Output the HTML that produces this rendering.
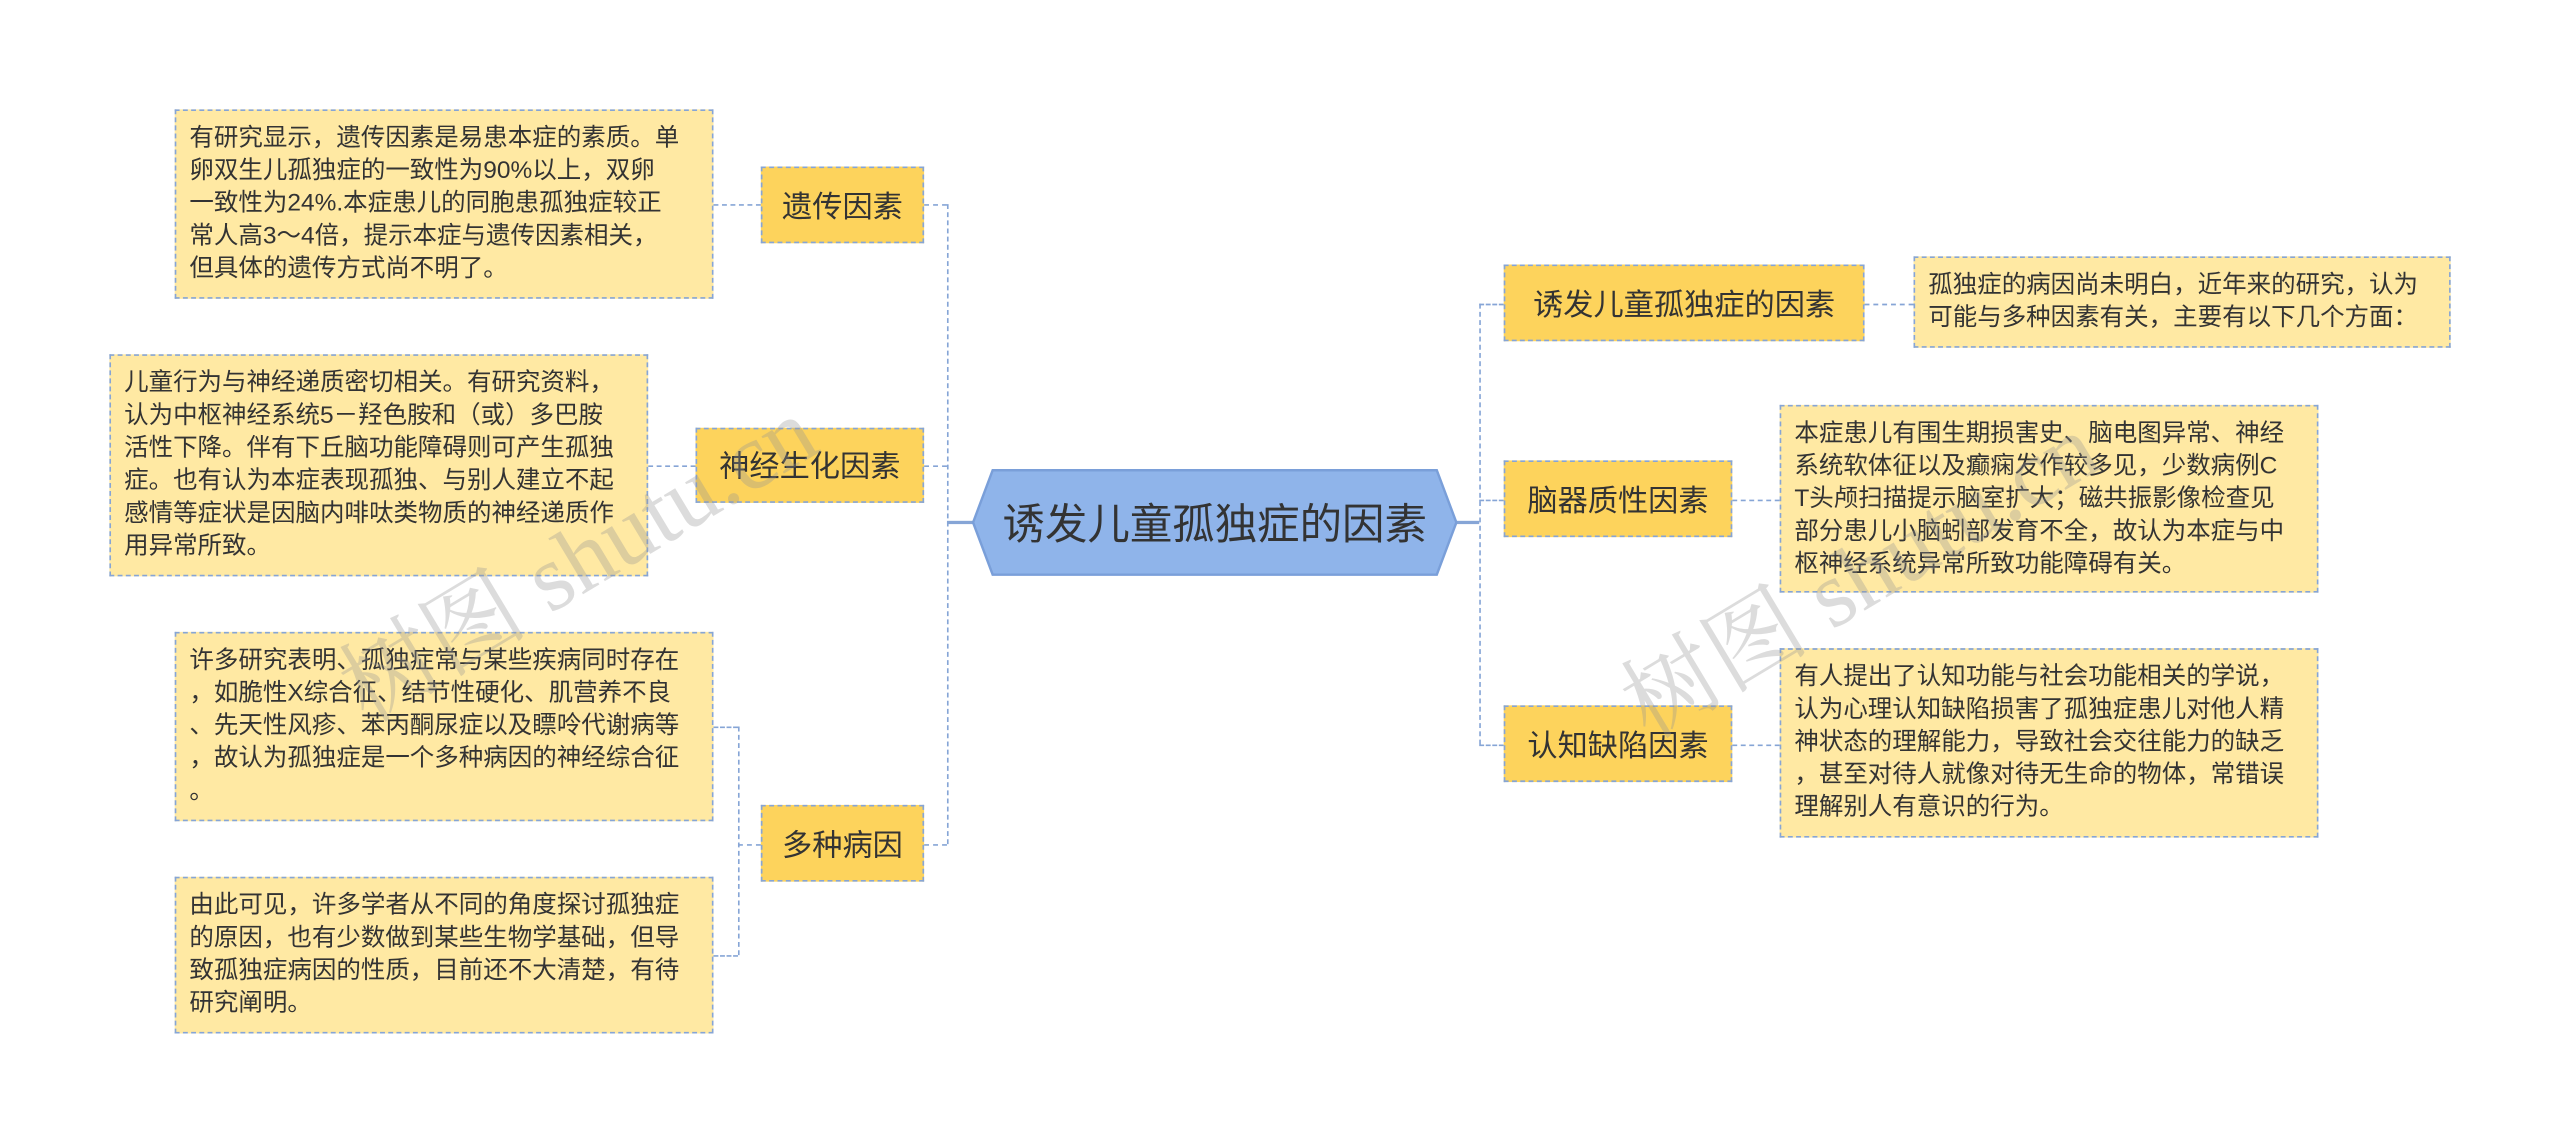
<!DOCTYPE html>
<html><head><meta charset="utf-8"><style>
html,body{margin:0;padding:0;background:#fff;width:2560px;height:1145px;overflow:hidden}
#w{position:absolute;left:0;top:0;width:1568px;height:701px;transform:scale(1.6327);transform-origin:0 0;font-family:"Liberation Sans","Noto Sans CJK SC",sans-serif;color:#333}
.t{position:absolute;background:#ffe9a3;border:1.2px dashed #86a5d6;box-sizing:border-box;padding:7px 0 0 8px;font-size:15px;line-height:20px;white-space:nowrap;color:#333}
.k{position:absolute;background:#fdd35c;border:1.2px dashed #86a5d6;box-sizing:border-box;font-size:18.5px;display:flex;align-items:center;justify-content:center;color:#333}
.l{position:absolute;border-color:#86a5d6;border-style:dashed;border-width:0}
.h{border-top-width:1.5px;height:0}
.v{border-left-width:1.5px;width:0}
.wm{position:absolute;font-size:58px;color:rgba(150,150,150,0.33);transform:rotate(-31deg);transform-origin:0 50%;font-family:"Liberation Serif","Noto Serif CJK SC",serif;white-space:nowrap}
</style></head><body><div id="w">
<div class="l v" style="left:580px;top:125px;height:392px"></div>
<div class="l h" style="left:566px;top:125px;width:14px"></div>
<div class="l h" style="left:566px;top:285px;width:14px"></div>
<div class="l h" style="left:566px;top:517px;width:14px"></div>
<div style="position:absolute;left:580px;top:319px;width:16px;height:2px;background:#86a5d6"></div>
<div class="l h" style="left:437px;top:125px;width:29px"></div>
<div class="l h" style="left:397px;top:285px;width:29px"></div>
<div class="l v" style="left:452px;top:445px;height:140px"></div>
<div class="l h" style="left:437px;top:445px;width:15px"></div>
<div class="l h" style="left:437px;top:585px;width:15px"></div>
<div class="l h" style="left:452px;top:517px;width:14px"></div>
<div style="position:absolute;left:892px;top:319px;width:14px;height:2px;background:#86a5d6"></div>
<div class="l v" style="left:906px;top:186px;height:270px"></div>
<div class="l h" style="left:906px;top:186px;width:15px"></div>
<div class="l h" style="left:906px;top:306px;width:15px"></div>
<div class="l h" style="left:906px;top:456px;width:15px"></div>
<div class="l h" style="left:1142px;top:186px;width:30px"></div>
<div class="l h" style="left:1061px;top:306px;width:29px"></div>
<div class="l h" style="left:1061px;top:456px;width:29px"></div>
<svg style="position:absolute;left:594px;top:286px" width="300" height="68"><polygon points="14,2 286,2 298,34 286,66 14,66 2,34" fill="#8fb4ea" stroke="#7a9fd9" stroke-width="1.5"/><text x="150" y="44" text-anchor="middle" font-size="26" fill="#333" font-family="Liberation Sans,Noto Sans CJK SC,sans-serif">诱发儿童孤独症的因素</text></svg>
<div class="k" style="left:466px;top:102px;width:100px;height:47px">遗传因素</div>
<div class="k" style="left:426px;top:262px;width:140px;height:46px">神经生化因素</div>
<div class="k" style="left:466px;top:493px;width:100px;height:47px">多种病因</div>
<div class="t" style="left:107px;top:67px;width:330px;height:116px">有研究显示，遗传因素是易患本症的素质。单<br>卵双生儿孤独症的一致性为90%以上，双卵<br>一致性为24%.本症患儿的同胞患孤独症较正<br>常人高3～4倍，提示本症与遗传因素相关，<br>但具体的遗传方式尚不明了。</div>
<div class="t" style="left:67px;top:217px;width:330px;height:136px">儿童行为与神经递质密切相关。有研究资料，<br>认为中枢神经系统5－羟色胺和（或）多巴胺<br>活性下降。伴有下丘脑功能障碍则可产生孤独<br>症。也有认为本症表现孤独、与别人建立不起<br>感情等症状是因脑内啡呔类物质的神经递质作<br>用异常所致。</div>
<div class="t" style="left:107px;top:387px;width:330px;height:116px">许多研究表明、孤独症常与某些疾病同时存在<br>，如脆性X综合征、结节性硬化、肌营养不良<br>、先天性风疹、苯丙酮尿症以及瞟呤代谢病等<br>，故认为孤独症是一个多种病因的神经综合征<br>。</div>
<div class="t" style="left:107px;top:537px;width:330px;height:96px">由此可见，许多学者从不同的角度探讨孤独症<br>的原因，也有少数做到某些生物学基础，但导<br>致孤独症病因的性质，目前还不大清楚，有待<br>研究阐明。</div>
<div class="k" style="left:921px;top:162px;width:221px;height:47px">诱发儿童孤独症的因素</div>
<div class="k" style="left:921px;top:282px;width:140px;height:47px">脑器质性因素</div>
<div class="k" style="left:921px;top:432px;width:140px;height:47px">认知缺陷因素</div>
<div class="t" style="left:1172px;top:157px;width:329px;height:56px">孤独症的病因尚未明白，近年来的研究，认为<br>可能与多种因素有关，主要有以下几个方面：</div>
<div class="t" style="left:1090px;top:248px;width:330px;height:115px">本症患儿有围生期损害史、脑电图异常、神经<br>系统软体征以及癫痫发作较多见，少数病例C<br>T头颅扫描提示脑室扩大；磁共振影像检查见<br>部分患儿小脑蚓部发育不全，故认为本症与中<br>枢神经系统异常所致功能障碍有关。</div>
<div class="t" style="left:1090px;top:397px;width:330px;height:116px">有人提出了认知功能与社会功能相关的学说，<br>认为心理认知缺陷损害了孤独症患儿对他人精<br>神状态的理解能力，导致社会交往能力的缺乏<br>，甚至对待人就像对待无生命的物体，常错误<br>理解别人有意识的行为。</div>
<div class="wm" style="left:212px;top:380px">树图 shutu.cn</div>
<div class="wm" style="left:997px;top:390px">树图 shutu.cn</div>
</div></body></html>
